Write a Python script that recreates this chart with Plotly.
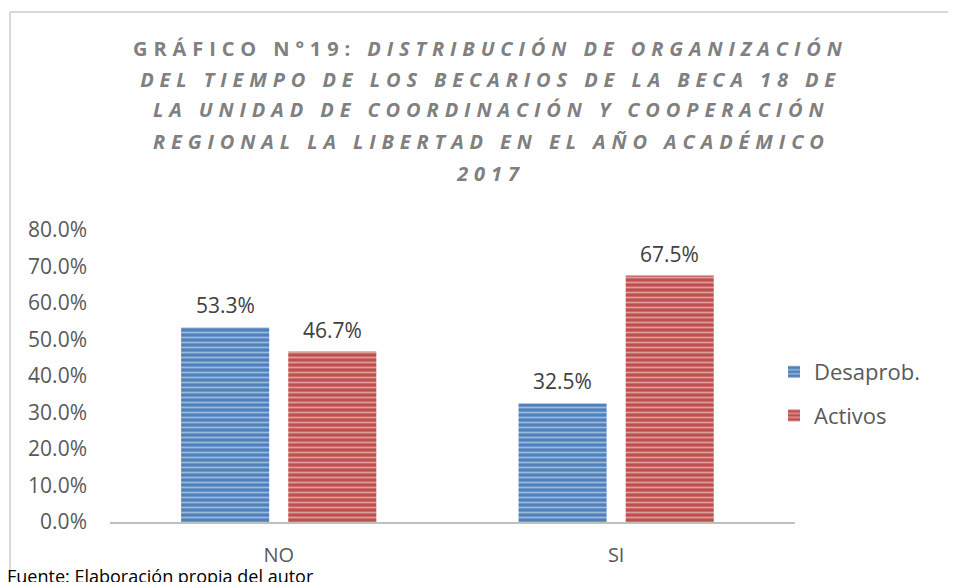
import plotly.graph_objects as go

categories = ["NO", "SI"]
desaprob = [0.533, 0.325]
activos = [0.467, 0.675]
series_names = ["Desaprob.", "Activos"]
y_ticks = [0, 0.1, 0.2, 0.3, 0.4, 0.5, 0.6, 0.7, 0.8]
title_lines = [
    "<b>GRÁFICO N°19: <i>DISTRIBUCIÓN DE ORGANIZACIÓN</i></b>",
    "<b><i>DEL TIEMPO DE LOS BECARIOS DE LA BECA 18 DE</i></b>",
    "<b><i>LA UNIDAD DE COORDINACIÓN Y COOPERACIÓN</i></b>",
    "<b><i>REGIONAL LA LIBERTAD EN EL AÑO ACADÉMICO</i></b>",
    "<b><i>2017</i></b>",
]
footer = "Fuente: Elaboración propia del autor"

W, H = 956, 582
OFF = 8  # page body margin
L, R, T, B = 110 - OFF, 956 - 795 + OFF, 230 - OFF, 582 - 522 + OFF
FONT = "Open Sans"
XRANGE = [-0.5, 1.53]
BARGAP, GROUPGAP = 0.365, 0.178

def py(ypx):
    return (H - B - (ypx - OFF)) / (H - T - B)

def px(xpx):
    return ((xpx - OFF) - L) / (W - L - R)

fig = go.Figure()
colors = ["#4F81BD", "#C0504D"]
for name, vals, col in zip(series_names, [desaprob, activos], colors):
    fig.add_trace(go.Bar(
        x=categories, y=vals, name=name, legendgroup=name,
        marker=dict(color=col, line=dict(width=0),
                    pattern=dict(shape="-", fgcolor="white", fgopacity=0.45, size=5, solidity=0.35)),
        hoverinfo="y",
    ))

annotations = []
# data labels
cat_px = (W - L - R) / (XRANGE[1] - XRANGE[0])
slot = cat_px * (1 - BARGAP) / 2
for k, vals in enumerate([desaprob, activos]):
    shift = (k - 0.5) * slot
    for c, v in zip(categories, vals):
        annotations.append(dict(text=f"{v*100:.1f}%", x=c, y=v, xref="x", yref="y",
                                xshift=shift, yshift=22, yanchor="middle", xanchor="center",
                                showarrow=False,
                                font=dict(family=FONT, size=21, color="#404040")))

title_y = [48, 79, 110, 141, 173]
title_anns = []
for line, yp in zip(title_lines, title_y):
    title_anns.append(dict(text=line, xref="paper", yref="paper", x=px(491), y=py(yp),
                           xanchor="center", yanchor="middle", showarrow=False,
                           font=dict(family=FONT, size=20, color="#808080")))
footer_ann = dict(text=footer, xref="paper", yref="paper", x=px(5), y=py(576),
                  xanchor="left", yanchor="middle", showarrow=False,
                  font=dict(family=FONT, size=18, color="#000000"))
annotations = title_anns + annotations + [footer_ann]

shapes = [
    dict(type="line", xref="paper", yref="paper", x0=px(10), x1=px(970), y0=py(12), y1=py(12),
         line=dict(color="#D9D9D9", width=2)),
    dict(type="line", xref="paper", yref="paper", x0=px(10), x1=px(10), y0=py(12), y1=py(600),
         line=dict(color="#D9D9D9", width=2)),
]

fig.update_layout(
    width=W, height=H,
    margin=dict(l=L, r=R, t=T, b=B, autoexpand=False),
    paper_bgcolor="white", plot_bgcolor="white",
    barmode="group", bargap=BARGAP, bargroupgap=GROUPGAP,
    font=dict(family=FONT, color="#595959"),
    showlegend=True,
    xaxis=dict(range=XRANGE, showline=True, linecolor="#BFBFBF", linewidth=2, ticks="",
               ticklabelstandoff=14,
               tickfont=dict(family=FONT, size=20, color="#595959"), showgrid=False),
    yaxis=dict(range=[0, 0.8], tickvals=y_ticks, tickformat=".1%", showgrid=False,
               zeroline=False, showline=False, ticks="", ticklabelstandoff=22,
               tickfont=dict(family=FONT, size=21, color="#595959")),
    legend=dict(x=px(774), y=py(394), xanchor="left", yanchor="middle",
                font=dict(family=FONT, size=22, color="#595959"),
                tracegroupgap=12, itemwidth=30, bgcolor="rgba(0,0,0,0)"),
    annotations=annotations,
    shapes=shapes,
)

post = """
document.querySelectorAll('g.annotation').forEach(function(g){
  var idx = parseInt(g.getAttribute('data-index'));
  if (idx < 5) { g.querySelectorAll('text').forEach(function(t){ t.style.letterSpacing='5.9px'; }); }
});
"""
fig.write_html("out.html", post_script=post)
